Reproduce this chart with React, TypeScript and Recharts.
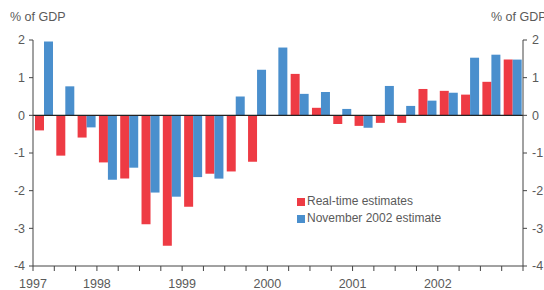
import React from 'react';
import { BarChart, Bar, XAxis, YAxis, ReferenceLine } from 'recharts';

const quarters = ['1997Q2','1997Q3','1997Q4','1998Q1','1998Q2','1998Q3','1998Q4','1999Q1','1999Q2','1999Q3','1999Q4','2000Q1','2000Q2','2000Q3','2000Q4','2001Q1','2001Q2','2001Q3','2001Q4','2002Q1','2002Q2','2002Q3','2002Q4'];
const realTime = [-0.40,-1.07,-0.59,-1.25,-1.68,-2.89,-3.46,-2.43,-1.55,-1.49,-1.23,null,1.10,0.20,-0.23,-0.28,-0.20,-0.20,0.70,0.65,0.55,0.89,1.48];
const nov2002 = [1.96,0.77,-0.32,-1.71,-1.39,-2.05,-2.16,-1.64,-1.68,0.50,1.21,1.80,0.57,0.62,0.17,-0.33,0.78,0.25,0.39,0.60,1.53,1.61,1.48];
const yearLabels = ['1997','1998','1999','2000','2001','2002'];
const yearStartQuarter = ['1997Q2','1998Q1','1999Q1','2000Q1','2001Q1','2002Q1'];
const yTicks = [-4,-3,-2,-1,0,1,2];
const seriesNames = ['Real-time estimates','November 2002 estimate'];

const RED = '#ee3b44';
const BLUE = '#4a8fcd';
const AXIS = '#444';
const TEXT = '#5a5a5a';
const FONT = '"Liberation Sans", Arial, sans-serif';

const data = quarters.map((q, i) => ({ q, rt: realTime[i], nov: nov2002[i] }));

const BoundaryTick = (props: any) => {
  const { x, y, payload, index, visibleTicksCount } = props;
  const off = payload && payload.offset != null ? payload.offset : 10.65;
  const left = x - off;
  const k = yearStartQuarter.indexOf(payload.value);
  const last = index === (visibleTicksCount ?? quarters.length) - 1;
  return (
    <g>
      <line x1={left} x2={left} y1={y} y2={y + 5} stroke={AXIS} />
      {last && <line x1={x + off} x2={x + off} y1={y} y2={y + 5} stroke={AXIS} />}
      {k >= 0 && (
        <text x={left} y={y + 13} dy="0.71em" textAnchor="middle" fill={TEXT} fontSize={12.5} fontFamily={FONT}>
          {yearLabels[k]}
        </text>
      )}
    </g>
  );
};

export default function App() {
  const tickStyle = { fill: TEXT, fontSize: 12.5, fontFamily: FONT };
  return (
    <div style={{ position: 'absolute', left: 0, top: 0, width: 544, height: 290, fontFamily: FONT }}>
      <BarChart width={544} height={290} data={data} margin={{ top: 40, right: 0, left: 0, bottom: 0 }} barCategoryGap={2} barGap={0}>
        <XAxis dataKey="q" height={24} tickSize={0} tickMargin={0} tickLine={false} interval={0}
          axisLine={{ stroke: AXIS }} tick={<BoundaryTick />} />
        <YAxis yAxisId="l" domain={[-4, 2]} ticks={yTicks} width={33} tickSize={4} tickMargin={4}
          axisLine={{ stroke: AXIS }} tickLine={{ stroke: AXIS }} tick={tickStyle} interval={0} />
        <YAxis yAxisId="r" orientation="right" domain={[-4, 2]} ticks={yTicks} width={21} tickSize={4} tickMargin={5}
          axisLine={{ stroke: AXIS }} tickLine={{ stroke: AXIS }} tick={tickStyle} interval={0} allowDataOverflow />
        <Bar yAxisId="l" dataKey="rt" name={seriesNames[0]} fill={RED} isAnimationActive={false} />
        <Bar yAxisId="l" dataKey="nov" name={seriesNames[1]} fill={BLUE} isAnimationActive={false} />
        <ReferenceLine yAxisId="l" y={0} stroke="#222" strokeWidth={1.3} />
      </BarChart>
      <div style={{ position: 'absolute', left: 10, top: 10, fontSize: 12.5, color: TEXT, whiteSpace: 'nowrap' }}>% of GDP</div>
      <div style={{ position: 'absolute', left: 491, top: 10, fontSize: 12.5, color: TEXT, whiteSpace: 'nowrap' }}>% of GDP</div>
      <div style={{ position: 'absolute', left: 297, top: 193, fontSize: 12, color: TEXT, lineHeight: '17px' }}>
        {seriesNames.map((n, i) => (
          <div key={n} style={{ display: 'flex', alignItems: 'center', whiteSpace: 'nowrap' }}>
            <span style={{ display: 'inline-block', width: 8, height: 8, background: i === 0 ? RED : BLUE, marginRight: 2 }} />
            {n}
          </div>
        ))}
      </div>
    </div>
  );
}
